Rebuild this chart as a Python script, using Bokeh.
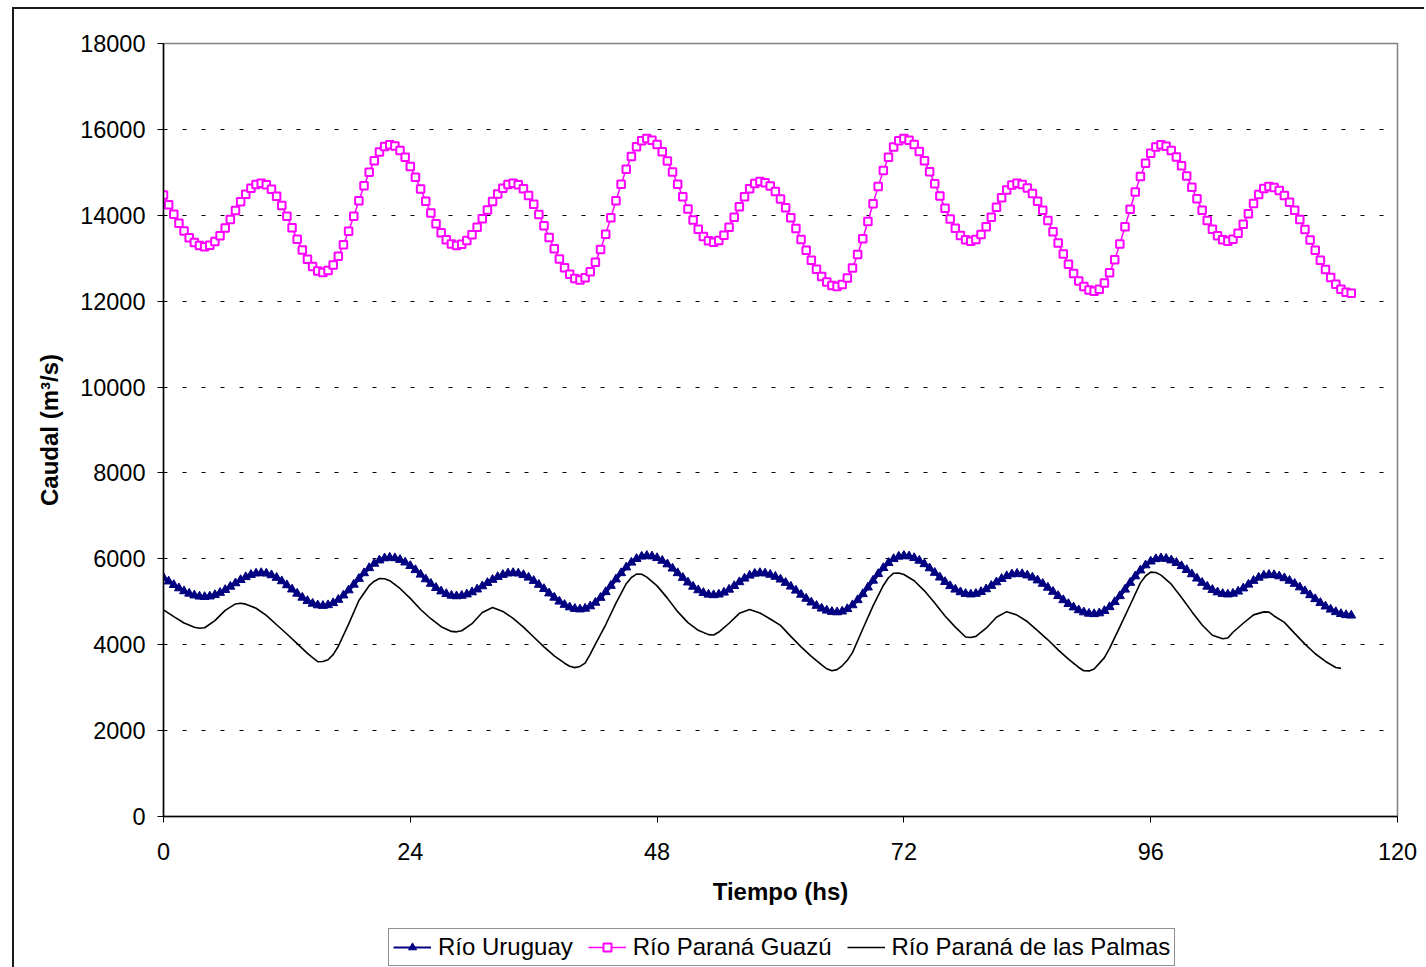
import numpy as np
from bokeh.plotting import figure
from bokeh.layouts import column
from bokeh.models import FixedTicker, Legend, LegendItem
from bokeh.embed import file_html
from bokeh.resources import INLINE

# ---------------- data ----------------
x_ticks = [0, 24, 48, 72, 96, 120]
y_ticks = [0, 2000, 4000, 6000, 8000, 10000, 12000, 14000, 16000, 18000]

# half-hour time steps for the two marker series (0 .. 115.5 h)
hours_half = np.arange(0, 116, 0.5)

rio_uruguay = [
    5560, 5476, 5393, 5316, 5248, 5192, 5150, 5124, 5115,
    5126, 5159, 5211, 5278, 5354, 5433, 5509, 5576, 5628, 5661, 5672,
    5659, 5621, 5560, 5481, 5388, 5289, 5191, 5098, 5019, 4958, 4920, 4907,
    4923, 4971, 5048, 5150, 5269, 5401, 5536, 5668, 5787, 5889, 5966, 6014, 6030,
    6017, 5978, 5917, 5836, 5740, 5635, 5526, 5421, 5325, 5244, 5183, 5144, 5131,
    5142, 5174, 5224, 5289, 5363, 5440, 5514, 5579, 5629, 5661, 5672,
    5660, 5623, 5565, 5489, 5398, 5299, 5197, 5098, 5007, 4931, 4873, 4836, 4824,
    4842, 4896, 4981, 5094, 5227, 5373, 5523, 5669, 5802, 5915, 6000, 6054, 6072,
    6059, 6020, 5957, 5874, 5776, 5669, 5559, 5452, 5354, 5271, 5208, 5169, 5156,
    5172, 5216, 5285, 5369, 5459, 5543, 5612, 5656, 5672,
    5662, 5632, 5585, 5521, 5443, 5356, 5262, 5167, 5073, 4986, 4908, 4844, 4797, 4767, 4757,
    4776, 4832, 4922, 5041, 5181, 5335, 5494, 5648, 5788, 5907, 5997, 6053, 6072,
    6059, 6020, 5959, 5878, 5782, 5677, 5568, 5463, 5367, 5286, 5225, 5186, 5173,
    5188, 5230, 5294, 5373, 5456, 5535, 5599, 5641, 5656,
    5646, 5615, 5566, 5500, 5421, 5331, 5235, 5136, 5040, 4950, 4871, 4805, 4756, 4725, 4715,
    4734, 4789, 4878, 4996, 5134, 5286, 5443, 5595, 5733, 5851, 5940, 5995, 6014,
    6002, 5966, 5908, 5832, 5743, 5644, 5543, 5444, 5355, 5279, 5221, 5185, 5173,
    5190, 5240, 5314, 5402, 5490, 5564, 5614, 5631,
    5622, 5595, 5551, 5492, 5420, 5338, 5249, 5156, 5064, 4975, 4893, 4821, 4762, 4718, 4691, 4682,
]

rio_parana_guazu = [
    14474, 14246, 14023, 13815, 13631, 13478, 13364, 13294, 13270,
    13300, 13387, 13525, 13701, 13903, 14112, 14314, 14490, 14628, 14715, 14745,
    14710, 14606, 14441, 14226, 13976, 13707, 13439, 13189, 12974, 12809, 12705, 12670,
    12713, 12840, 13044, 13313, 13630, 13978, 14337, 14685, 15002, 15271, 15475, 15602, 15645,
    15611, 15510, 15349, 15137, 14887, 14611, 14329, 14053, 13803, 13591, 13430, 13329, 13295,
    13324, 13410, 13545, 13719, 13917, 14123, 14321, 14495, 14630, 14716, 14745,
    14712, 14616, 14462, 14259, 14019, 13755, 13485, 13221, 12981, 12778, 12624, 12528, 12495,
    12543, 12684, 12909, 13206, 13557, 13942, 14338, 14723, 15074, 15371, 15596, 15737, 15785,
    15750, 15647, 15481, 15263, 15006, 14723, 14432, 14149, 13892, 13674, 13508, 13405, 13370,
    13413, 13536, 13724, 13955, 14200, 14431, 14619, 14742, 14785,
    14758, 14679, 14552, 14381, 14174, 13940, 13690, 13435, 13185, 12951, 12744, 12573, 12446, 12367, 12340,
    12390, 12537, 12773, 13084, 13452, 13855, 14270, 14673, 15041, 15352, 15588, 15735, 15785,
    15750, 15648, 15484, 15269, 15014, 14734, 14446, 14166, 13911, 13696, 13532, 13430, 13395,
    13436, 13553, 13733, 13953, 14187, 14408, 14587, 14704, 14745,
    14717, 14636, 14505, 14329, 14116, 13876, 13619, 13356, 13099, 12859, 12646, 12470, 12339, 12258, 12230,
    12280, 12425, 12659, 12967, 13330, 13730, 14140, 14540, 14903, 15211, 15445, 15590, 15640,
    15607, 15511, 15358, 15155, 14916, 14653, 14382, 14119, 13880, 13677, 13524, 13428, 13395,
    13444, 13582, 13789, 14033, 14276, 14483, 14621, 14670,
    14646, 14575, 14461, 14306, 14118, 13903, 13670, 13427, 13185, 12952, 12737, 12549, 12394, 12280, 12209, 12185,
]

# plain line series: hourly readings, with extra half-hour readings at the turns
hours_palmas = [
    0, 1, 2, 3, 3.5, 4, 5, 6, 7, 7.5, 8, 9, 10, 11, 12, 13, 14, 14.5, 15, 15.5,
    16, 16.5, 17, 18, 19, 20, 20.5, 21, 21.5, 22, 23, 24, 25, 26, 27, 28, 28.5, 29,
    30, 31, 32, 33, 34, 35, 36, 37, 38, 39, 39.5, 40, 40.5, 41, 41.5, 42, 43, 44,
    45, 45.5, 46, 46.5, 47, 48, 49, 50, 51, 52, 53, 53.5, 54, 55, 56, 57, 58, 59,
    60, 61, 62, 63, 64, 64.5, 65, 65.5, 66, 66.5, 67, 68, 69, 70, 70.5, 71, 71.5,
    72, 73, 74, 75, 76, 77, 78, 78.5, 79, 80, 81, 82, 83, 84, 85, 86, 87, 88, 89,
    89.5, 90, 90.5, 91, 91.5, 92, 93, 94, 95, 95.5, 96, 96.5, 97, 98, 99, 100, 101,
    102, 103, 103.5, 104, 105, 106, 107, 107.5, 108, 109, 110, 111, 112, 113, 114, 114.5,
]
rio_parana_palmas = [
    4810, 4655, 4505, 4405, 4385, 4395, 4560, 4800, 4950, 4965, 4945, 4850, 4685, 4465, 4250, 4025, 3800, 3700, 3605, 3610,
    3650, 3770, 3965, 4480, 5030, 5375, 5480, 5540, 5535, 5490, 5310, 5080, 4820, 4605, 4420, 4310, 4300, 4325,
    4490, 4750, 4865, 4775, 4615, 4410, 4180, 3950, 3740, 3570, 3500, 3467, 3495, 3570, 3780, 4015, 4465, 4970,
    5420, 5565, 5645, 5640, 5575, 5370, 5085, 4770, 4515, 4335, 4235, 4228, 4295, 4500, 4730, 4820, 4740, 4600,
    4450, 4195, 3950, 3730, 3530, 3440, 3392, 3420, 3510, 3640, 3815, 4365, 4905, 5380, 5560, 5665, 5670,
    5635, 5490, 5255, 4970, 4670, 4410, 4180, 4168, 4195, 4385, 4640, 4770, 4690, 4540, 4330, 4115, 3880, 3665, 3470,
    3395, 3390, 3435, 3565, 3700, 3915, 4415, 4925, 5440, 5600, 5690, 5680, 5620, 5410, 5100, 4770, 4460,
    4220, 4140, 4155, 4290, 4500, 4695, 4765, 4760, 4670, 4520, 4265, 4015, 3790, 3610, 3470, 3450,
]

series_labels = ["Río Uruguay", "Río Paraná Guazú", "Río Paraná de las Palmas"]

FONT = "Liberation Sans"
NAVY = "#000080"
MAGENTA = "#FF00FF"

# ---------------- main figure ----------------
W = 1410
H_MAIN, H_LEG = 912, 46
p = figure(width=W, height=H_MAIN, output_backend="svg", toolbar_location=None,
           x_range=(0, 120), y_range=(0, 18000),
           min_border_left=149, min_border_right=27,
           min_border_top=34, min_border_bottom=105)
p.background_fill_color = "white"
p.border_fill_color = "white"
p.outline_line_color = "#808080"
p.outline_line_width = 1.5

p.xaxis.ticker = FixedTicker(ticks=x_ticks)
p.yaxis.ticker = FixedTicker(ticks=y_ticks)
p.xaxis.axis_label = "Tiempo (hs)"
p.yaxis.axis_label = "Caudal (m³/s)"
for ax in (p.xaxis, p.yaxis):
    ax.axis_line_color = "black"
    ax.axis_line_width = 1.5
    ax.major_tick_in = 0
    ax.major_tick_out = 6
    ax.major_tick_line_color = "black"
    ax.minor_tick_line_color = None
    ax.major_label_text_font = FONT
    ax.major_label_text_font_size = "23.5px"
    ax.major_label_text_color = "black"
    ax.axis_label_text_font = FONT
    ax.axis_label_text_font_size = "24px"
    ax.axis_label_text_font_style = "bold"
    ax.axis_label_text_color = "black"
p.yaxis.major_label_standoff = 12
p.yaxis.axis_label_standoff = 14
p.xaxis.major_label_standoff = 20
p.xaxis.axis_label_standoff = 15

p.xgrid.visible = False
p.ygrid.grid_line_color = "#000000"
p.ygrid.grid_line_width = 1
p.ygrid.grid_line_dash = "4 15"

p.line(hours_half, rio_uruguay, line_color=NAVY, line_width=3.5)
p.scatter(hours_half, rio_uruguay, marker="triangle", size=9,
          fill_color=NAVY, line_color=NAVY, line_width=1)
p.line(hours_half, rio_parana_guazu, line_color=MAGENTA, line_width=1.5)
p.scatter(hours_half, rio_parana_guazu, marker="square", size=7.5,
          fill_color="white", line_color=MAGENTA, line_width=2)
p.line(hours_palmas, rio_parana_palmas, line_color="black", line_width=1.6)

# ---------------- legend strip (bottom of the chart) ----------------
q = figure(width=W, height=H_LEG, output_backend="svg", toolbar_location=None,
           x_range=(0, 1), y_range=(0, 1), x_axis_location=None, y_axis_location=None,
           min_border=0, min_border_left=0, min_border_right=0,
           min_border_top=0, min_border_bottom=0)
q.grid.visible = False
q.outline_line_color = None
q.background_fill_color = "white"
q.border_fill_color = "white"

# legend glyph samples placed outside the visible range of the strip
lu = q.line([-5, -4], [-5, -4], line_color=NAVY, line_width=2)
su = q.scatter([-5], [-5], marker="triangle", size=6, fill_color=NAVY, line_color=NAVY)
lg = q.line([-5, -4], [-5, -4], line_color=MAGENTA, line_width=1.5)
sg = q.scatter([-5], [-5], marker="square", size=7, fill_color="white",
               line_color=MAGENTA, line_width=2)
lp = q.line([-5, -4], [-5, -4], line_color="black", line_width=1.6)

legend = Legend(items=[
    LegendItem(label=series_labels[0], renderers=[lu, su]),
    LegendItem(label=series_labels[1], renderers=[lg, sg]),
    LegendItem(label=series_labels[2], renderers=[lp]),
], orientation="horizontal", location=(225, 1))
legend.label_text_font = FONT
legend.label_text_font_size = "24px"
legend.label_text_color = "black"
legend.glyph_width = 38
legend.glyph_height = 20
legend.label_height = 20
legend.label_standoff = 7
legend.spacing = 15
legend.padding = 4
legend.margin = 0
legend.border_line_color = "#222222"
legend.border_line_width = 1.5
legend.background_fill_color = "white"
legend.background_fill_alpha = 1
q.add_layout(legend)

page = column(p, q, spacing=0)
page.styles = {"margin-left": "12px", "margin-top": "7px",
               "border-left": "2px solid #1a1a1a", "border-top": "2px solid #1a1a1a"}

open("out.html", "w").write(file_html(page, INLINE))
